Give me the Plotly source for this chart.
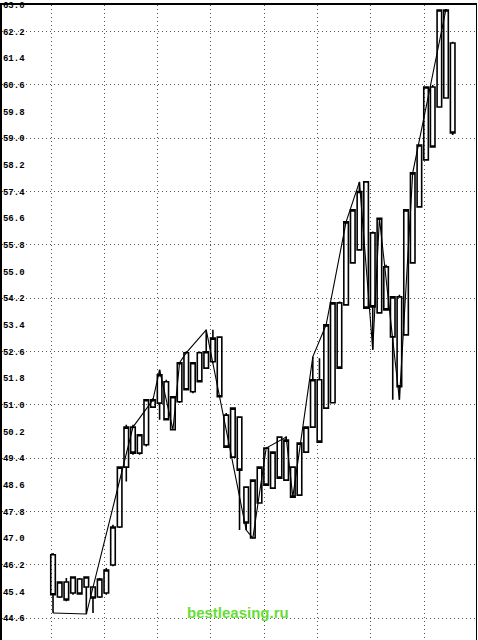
import plotly.graph_objects as go

# ---- data ----
opens  = [46.50,45.23,45.68,45.35,45.77,45.53,45.53,45.23,45.35,46.19,
          47.33,49.13,50.33,49.55,49.80,50.93,51.05,51.69,50.25,51.09,
          52.56,51.39,52.56,52.10,52.29,53.03,50.69,49.43,50.63,48.53,
          47.00,48.05,49.70,48.50,50.03,48.74,49.13,48.29,49.58,50.33,
          51.75,50.90,51.06,54.06,54.00,55.26,55.65,57.69,56.16,53.76,
          55.14,53.04,54.24,53.10,55.26,56.94,58.35,60.54,59.94,60.21,
          61.86]
highs  = [46.55,45.70,45.80,45.85,45.80,45.85,45.55,45.80,46.10,47.40,
          49.15,50.40,50.40,50.10,51.15,51.20,52.05,51.75,51.24,52.26,
          52.60,52.26,52.60,53.25,53.25,53.05,50.75,50.90,50.65,48.55,
          48.74,49.13,49.72,49.58,50.05,50.05,49.15,49.85,50.33,52.44,
          52.40,53.40,54.06,54.10,56.49,56.85,57.69,57.69,56.20,56.60,
          55.20,54.24,54.30,56.85,57.96,58.80,60.54,60.60,62.85,62.88,
          61.90]
lows   = [44.75,45.20,45.10,45.30,45.30,44.72,44.75,45.20,45.30,46.15,
          47.30,48.70,49.50,49.50,49.75,50.90,50.55,50.55,50.25,51.05,
          51.45,51.35,51.69,52.10,52.25,51.24,49.73,49.40,47.24,47.24,
          47.00,48.05,48.59,48.50,48.80,48.74,48.23,48.29,49.58,50.33,
          49.88,50.90,51.06,52.10,54.00,55.26,55.65,53.90,52.65,53.76,
          53.85,51.15,51.15,53.10,55.26,56.94,58.35,58.74,59.94,60.21,
          59.10]
closes = [45.30,45.68,45.14,45.83,45.32,45.83,45.20,45.77,46.04,47.33,
          49.13,50.33,49.55,50.10,51.15,51.15,51.90,50.55,51.24,52.26,
          51.45,52.26,51.69,52.59,53.00,51.24,49.73,50.90,49.04,47.45,
          48.74,49.13,48.59,49.58,48.80,49.94,48.23,49.85,50.33,51.75,
          49.88,53.40,54.06,52.10,56.49,56.85,57.40,53.90,53.94,56.60,
          53.85,54.24,51.54,56.85,57.96,58.80,60.54,58.74,62.85,62.85,
          59.16]
bar_idx = list(range(len(opens)))

zig_idx = [0, 5, 12, 15, 16, 18, 19, 20, 23, 29, 30, 32, 35, 36, 39, 41, 44, 46, 48, 49, 52, 54, 59]
zig_val = [44.75, 44.72, 50.33, 51.15, 52.05, 50.25, 52.26, 52.56, 53.25, 47.24, 47.00,
           49.70, 50.03, 48.23, 52.44, 53.40, 56.49, 57.69, 52.65, 56.60, 51.15, 57.96, 62.88]

y_ticks = [44.6, 45.4, 46.2, 47.0, 47.8, 48.6, 49.4, 50.2, 51.0, 51.8, 52.6, 53.4,
           54.2, 55.0, 55.8, 56.6, 57.4, 58.2, 59.0, 59.8, 60.6, 61.4, 62.2, 63.0]
y_tick_text = ["%.1f" % v for v in y_ticks]
watermark = "bestleasing.ru"

# ---- figure ----
fig = go.Figure()
fig.add_trace(go.Candlestick(
    x=bar_idx, open=opens, high=highs, low=lows, close=closes,
    increasing=dict(line=dict(color="black", width=1.6), fillcolor="rgba(0,0,0,0)"),
    decreasing=dict(line=dict(color="black", width=1.6), fillcolor="rgba(0,0,0,0)"),
    whiskerwidth=0, showlegend=False, hoverinfo="skip"))
fig.add_trace(go.Scatter(x=zig_idx, y=zig_val, mode="lines",
                         line=dict(color="black", width=1.1), showlegend=False,
                         hoverinfo="skip"))
# invisible trace on secondary axis (for the 1.6-step grid and right border)
fig.add_trace(go.Scatter(x=[bar_idx[0]], y=[y_ticks[0]], yaxis="y2", mode="markers",
                         marker=dict(opacity=0), showlegend=False, hoverinfo="skip"))

YR = [43.94, 63.0]
GRID = "#555555"
fig.update_layout(
    width=478, height=640,
    margin=dict(l=2, r=2, t=5, b=0, autoexpand=False),
    paper_bgcolor="white", plot_bgcolor="white",
    boxgap=0.02,
    xaxis=dict(range=[-7.66, 63.5], side="top", showline=True, linecolor="black",
               linewidth=1.5, showticklabels=False, ticks="", automargin=False,
               showgrid=True, tick0=-0.3, dtick=8, gridcolor=GRID,
               griddash="1px,3px", gridwidth=1, zeroline=False,
               rangeslider=dict(visible=False), fixedrange=True),
    yaxis=dict(range=YR, tickvals=y_ticks, ticktext=y_tick_text,
               ticklabelposition="inside", ticklabeloverflow="allow", ticks="",
               showgrid=False, automargin=False,
               showline=True, linecolor="black", linewidth=2.5, zeroline=False,
               tickfont=dict(family="Liberation Mono", size=9, color="black",
                             weight="bold")),
    yaxis2=dict(range=YR, overlaying="y", side="right", showticklabels=False,
                ticks="", tick0=44.6, dtick=1.6, showgrid=True, automargin=False,
                gridcolor=GRID, griddash="1px,3px", gridwidth=1,
                showline=True, linecolor="black", linewidth=1.2, zeroline=False),
    annotations=[dict(text="<b>" + watermark + "</b>", xref="paper", yref="paper",
                      x=0.498, y=0.044, xanchor="center", yanchor="middle",
                      showarrow=False,
                      font=dict(family="Liberation Sans", size=15, color="#66dd33"))],
)
fig.write_html("out.html", config={"displayModeBar": False},
               post_script="document.body.style.margin='0px';document.body.style.overflow='hidden';")
